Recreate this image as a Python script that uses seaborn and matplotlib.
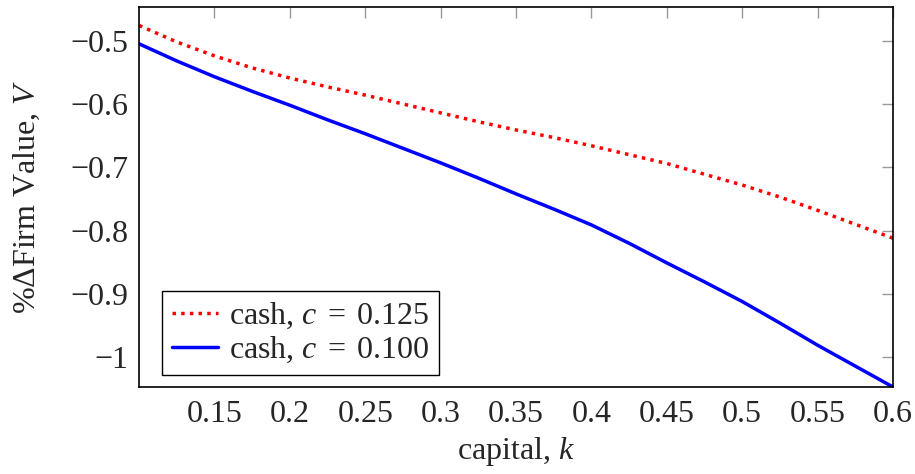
import numpy as np
import pandas as pd
import matplotlib
matplotlib.use('Agg')
import matplotlib.pyplot as plt
import matplotlib.ticker as mticker
import seaborn as sns

# capital grid and firm value changes
capital = [0.100, 0.125, 0.150, 0.175, 0.200, 0.225, 0.250, 0.275, 0.300, 0.325, 0.350,
           0.375, 0.400, 0.425, 0.450, 0.475, 0.500, 0.525, 0.550, 0.575, 0.600]
cash_125 = [-0.476, -0.502, -0.524, -0.543, -0.559, -0.573, -0.586, -0.600, -0.614, -0.628, -0.641,
            -0.653, -0.666, -0.680, -0.694, -0.711, -0.728, -0.747, -0.768, -0.790, -0.812]
cash_100 = [-0.505, -0.532, -0.557, -0.580, -0.602, -0.625, -0.647, -0.670, -0.693, -0.717, -0.742,
            -0.766, -0.791, -0.820, -0.851, -0.881, -0.912, -0.946, -0.981, -1.014, -1.047]

labels = ['cash, $c\\;=\\;0.125$', 'cash, $c\\;=\\;0.100$']
x_ticks = [0.15, 0.2, 0.25, 0.3, 0.35, 0.4, 0.45, 0.5, 0.55, 0.6]
y_ticks = [-1.0, -0.9, -0.8, -0.7, -0.6, -0.5]

sns.set_theme(style='white')
plt.rcParams['font.family'] = ['Liberation Serif', 'DejaVu Serif']
plt.rcParams['mathtext.fontset'] = 'custom'
plt.rcParams['mathtext.rm'] = 'Liberation Serif'
plt.rcParams['mathtext.it'] = 'Liberation Serif:italic'

df = pd.DataFrame({
    'k': capital * 2,
    'V': cash_125 + cash_100,
    'series': [labels[0]] * len(capital) + [labels[1]] * len(capital),
})

fig = plt.figure(figsize=(9.15, 4.74), dpi=100)
ax = fig.add_axes([0.152, 0.1835, 0.824, 0.8015])

sns.lineplot(data=df, x='k', y='V', hue='series', style='series',
             palette={labels[0]: '#ff0000', labels[1]: '#0000ff'},
             dashes={labels[0]: (1, 1.5), labels[1]: ''},
             linewidth=2.5, ax=ax)
ax.lines[0].set_dash_capstyle('butt')

ax.set_xlim(0.1, 0.6)
ax.set_ylim(-1.047, -0.447)
ax.xaxis.set_major_locator(mticker.FixedLocator(x_ticks))
ax.yaxis.set_major_locator(mticker.FixedLocator(y_ticks))
fmt = mticker.FuncFormatter(lambda v, p: ('%g' % round(v, 3)).replace('-', '\u2212'))
ax.xaxis.set_major_formatter(fmt)
ax.yaxis.set_major_formatter(fmt)
ax.tick_params(direction='in', length=8, width=1.0, color='#999999',
               top=True, right=True, labelsize=23)
ax.tick_params(axis='x', pad=9)
ax.tick_params(axis='y', pad=8)

for s in ax.spines.values():
    s.set_color('black')
    s.set_linewidth(1.2)

ax.set_xlabel('capital, $k$', fontsize=23, labelpad=5)
ax.set_ylabel('%\u0394Firm Value, $V$', fontsize=23, labelpad=20)

leg = ax.legend(loc='lower left', bbox_to_anchor=(0.0305, 0.0316), borderaxespad=0,
                fontsize=23, frameon=True, fancybox=False,
                edgecolor='black', framealpha=1, handlelength=1.45,
                borderpad=0.3, labelspacing=0.12, handletextpad=0.35)
leg.get_frame().set_linewidth(1.0)

fig.savefig('out.png', dpi=100, facecolor='white')
